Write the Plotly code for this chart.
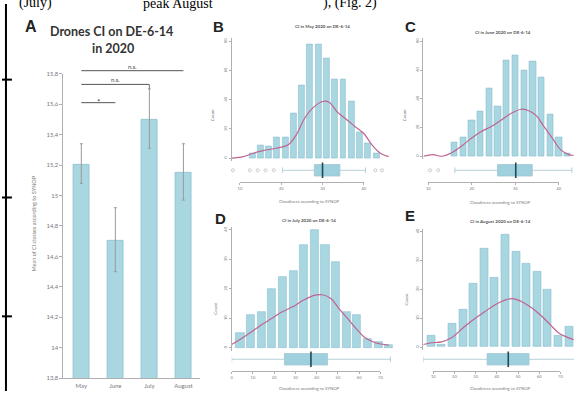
import plotly.graph_objects as go

W, H = 577, 394
def px(x): return x / W
def py(y): return 1 - y / H

# ---------------- data : panel A ----------------
months = ["May", "June", "July", "August"]
mean_ci = [15.2, 14.7, 15.5, 15.15]
err_up = [0.14, 0.22, 0.20, 0.19]
err_down = [0.12, 0.20, 0.19, 0.18]
a_tickvals = [13.8, 14.0, 14.2, 14.4, 14.6, 14.8, 15.0, 15.2, 15.4, 15.6, 15.8]
a_ticktext = ["13,8", "14", "14,2", "14,4", "14,6", "14,8", "15", "15,2", "15,4", "15,6", "15,8"]
sig_from = [0, 0, 0]
sig_to = [3, 2, 1]
sig_level = [15.82, 15.73, 15.61]
sig_text = ["n.s.", "n.s.", "*"]

# ---------------- data : panels B-E ----------------
B_centers = [13, 15, 17, 19, 21, 23, 25, 27, 29, 31, 33, 35, 37, 39, 41, 43]
B_counts = [3, 9, 8, 14, 14, 31, 50, 78, 78, 68, 54, 54, 39, 18, 10, 3]
B_dens_x = [8.0, 10.8, 13.2, 15.6, 18.8, 21.6, 23.6, 25.6, 27.6, 30.0, 31.6, 33.6, 35.6, 38.0, 40.0, 42.0, 44.0, 46.0]
B_dens_y = [0, 1.1, 3.4, 5.2, 6.8, 9.0, 15.8, 27, 34.3, 38.8, 38.3, 31.5, 27, 21.4, 16.9, 9.0, 3.4, 1.1]
B_box = [20.3, 28.0, 30.0, 34.2, 40.4]
B_outliers = [8.3, 12.4, 14.3, 16.2, 18.2, 42.8, 44.4]
B_xticks = [10, 20, 30, 40]
B_yticks = [0, 20, 40, 60, 80]

C_centers = [16, 18, 20, 22, 24, 26, 28, 30, 32, 34, 36, 38, 40, 42]
C_counts = [10, 13, 25, 31, 47, 35, 67, 70, 60, 66, 55, 29, 13, 2]
C_dens_x = [8.9, 11.1, 13.0, 15.3, 17.6, 19.9, 22.1, 24.4, 26.7, 29.0, 31.3, 32.8, 34.7, 36.6, 38.5, 40.4, 42.3, 43.4]
C_dens_y = [0, 1.1, 0, 2.3, 6.9, 12.6, 17.1, 20.6, 25.1, 29.7, 32.7, 32, 28.6, 20.6, 12.6, 4.6, 1.1, 0.7]
C_box = [16.1, 25.9, 30.1, 33.9, 43.0]
C_outliers = [10.4, 12.3]
C_xticks = [10, 20, 30, 40]
C_yticks = [0, 20, 40, 60, 80]

D_centers = [4, 9, 14, 19, 24, 29, 34, 39, 44, 49, 54, 59, 64, 69, 74]
D_counts = [5, 11, 12, 20, 24, 26, 35, 40, 35, 29, 12, 11, 3, 2, 1]
D_dens_x = [0, 3.9, 8.5, 14.0, 19.0, 23.8, 28.7, 33.7, 38.9, 42.7, 46.7, 50.5, 55.2, 59.1, 63.0, 67.7, 73.9]
D_dens_y = [1.1, 2.8, 5, 7.8, 10, 12.2, 13.9, 16.1, 17.8, 18, 16.7, 13.3, 9.4, 6.1, 3.3, 1.7, 0.9]
D_box = [0, 24.8, 37.3, 45.1, 74.7]
D_outliers = []
D_xticks = [0, 10, 20, 30, 40, 50, 60, 70]
D_yticks = [0, 10, 20, 30, 40]

E_centers = [9, 14, 19, 24, 29, 34, 39, 44, 49, 54, 59, 64, 69, 74]
E_counts = [4, 1, 8, 13, 22, 34, 24, 39, 33, 29, 26, 20, 4, 7]
E_dens_x = [5.3, 9.2, 13.9, 18.6, 24.0, 28.7, 34.2, 38.8, 43.5, 47.4, 51.3, 55.9, 60.6, 65.3, 69.2, 73.9, 76.2]
E_dens_y = [0.9, 1.5, 1.8, 3.2, 6.6, 9.4, 12.2, 14.5, 16.2, 16.8, 15.9, 13.9, 11.1, 7.7, 4.9, 3.2, 2.6]
E_box = [5.3, 35.4, 45.4, 55.2, 76.8]
E_outliers = []
E_xticks = [10, 20, 30, 40, 50, 60, 70]
E_yticks = [0, 10, 20, 30, 40]

panel_letters = ["B", "C", "D", "E"]
panel_titles = ["CI in May 2020 on DE-6-14", "CI in June 2020 on DE-6-14",
                "CI in July 2020 on DE-6-14", "CI in August 2020 on DE-6-14"]
x_title = "Cloudiness according to SYNOP"
y_title_hist = "Count"

# ---------------- styles ----------------
BAR = "#a8d6e1"
BAR_EDGE = "#8cc0ce"
DENS = "#c0648f"
AX = "#b0b0b0"
TXT = "#7a7a7a"
FONT = "Lato"

fig = go.Figure()
layout = dict(width=W, height=H, margin=dict(l=0, r=0, t=0, b=0),
              paper_bgcolor="white", plot_bgcolor="rgba(0,0,0,0)",
              showlegend=False, bargap=0)
annotations = []
shapes = []

def note(x, y, text, size, color, family=FONT, angle=0, xanchor="center"):
    return dict(x=px(x), y=py(y), xref="paper", yref="paper", text=text, showarrow=False,
                xanchor=xanchor, yanchor="middle", textangle=angle,
                font=dict(size=size, color=color, family=family))

# ---------------- panel A ----------------
A_px = dict(x0=62, x1=200, y_bot=381, y_top=71)
cat_idx = list(range(len(months)))
cat_sp = (183 - 80) / 3.0
a_xr = [(A_px["x0"] - 80) / cat_sp, (A_px["x1"] - 80) / cat_sp]
fig.add_trace(go.Bar(x=cat_idx, y=mean_ci, width=0.46,
                     marker=dict(color=BAR, line=dict(color=BAR_EDGE, width=0.8)),
                     error_y=dict(type="data", symmetric=False, array=err_up, arrayminus=err_down,
                                  color="#9a9a9a", thickness=1, width=1.5),
                     xaxis="x", yaxis="y", hoverinfo="skip"))
layout["xaxis"] = dict(domain=[px(A_px["x0"]), px(A_px["x1"])], range=a_xr, anchor="y",
                       tickvals=cat_idx, ticktext=months, showline=True, linecolor=AX, linewidth=1,
                       ticks="", tickfont=dict(size=6, color=TXT, family=FONT), showgrid=False,
                       zeroline=False, ticklabelstandoff=2)
layout["yaxis"] = dict(domain=[py(A_px["y_bot"]), py(A_px["y_top"])], range=[13.8, 15.8], anchor="x",
                       tickvals=a_tickvals, ticktext=a_ticktext, showline=True, linecolor=AX,
                       linewidth=1, ticks="outside", ticklen=3, tickcolor=AX, showgrid=False,
                       zeroline=False, tickfont=dict(size=6, color=TXT, family=FONT))
# overlay for significance brackets
ppv = (A_px["y_bot"] - A_px["y_top"]) / 2.0
layout["xaxis2"] = dict(domain=[px(A_px["x0"]), px(A_px["x1"])], range=a_xr, visible=False, anchor="y2")
layout["yaxis2"] = dict(domain=[py(A_px["y_bot"]), py(55)], range=[13.8, 13.8 + (A_px["y_bot"] - 55) / ppv],
                        visible=False, anchor="x2")
for f, t, lv, tx in zip(sig_from, sig_to, sig_level, sig_text):
    fig.add_trace(go.Scatter(x=[f, t], y=[lv, lv], mode="lines", line=dict(color="#555", width=1),
                             xaxis="x2", yaxis="y2", hoverinfo="skip"))
    annotations.append(dict(x=(f + t) / 2, y=lv, xref="x2", yref="y2", text=tx, showarrow=False,
                            xanchor="center",
                            yanchor="bottom" if tx != "*" else "middle",
                            font=dict(size=6 if tx != "*" else 8, color="#444", family=FONT),
                            yshift=-1 if tx != "*" else 1))
fig.add_trace(go.Scatter(x=[2, 2], y=[sig_level[1], mean_ci[2] + err_up[2]], mode="lines",
                         line=dict(color="#777", width=1), xaxis="x2", yaxis="y2", hoverinfo="skip"))

annotations += [
    note(29, 23, "<b>A</b>", 16, "#222", "Liberation Sans"),
    note(110, 28, "<b>Drones CI on DE-6-14</b>", 12.5, "#333"),
    note(112, 45, "<b>in 2020</b>", 12.5, "#333"),
    note(32.7, 223, "Mean of CI classes according to SYNOP", 5.5, TXT, angle=-90),
]

# ---------------- panels B-E ----------------
panels = [
    dict(centers=B_centers, counts=B_counts, barw=1.45, dens_x=B_dens_x, dens_y=B_dens_y, box=B_box,
         outl=B_outliers, xticks=B_xticks, yticks=B_yticks),
    dict(centers=C_centers, counts=C_counts, barw=1.45, dens_x=C_dens_x, dens_y=C_dens_y, box=C_box,
         outl=C_outliers, xticks=C_xticks, yticks=C_yticks),
    dict(centers=D_centers, counts=D_counts, barw=3.8, dens_x=D_dens_x, dens_y=D_dens_y, box=D_box,
         outl=D_outliers, xticks=D_xticks, yticks=D_yticks),
    dict(centers=E_centers, counts=E_counts, barw=3.8, dens_x=E_dens_x, dens_y=E_dens_y, box=E_box,
         outl=E_outliers, xticks=E_xticks, yticks=E_yticks),
]
geoms = [
    dict(x0=231.7, x1=395, tf=240, tl=365, yz=157, yt=38, bc=169.3, al=181.7,
         lab=(218, 23), tit=(323, 23), cnt=(213, 113), xt=(310, 201)),
    dict(x0=425, x1=577, tf=430, tl=561.7, yz=155, yt=38, bc=169.3, al=181.7,
         lab=(411.7, 23), tit=(505, 29), cnt=(406.7, 113), xt=(503, 201.7)),
    dict(x0=231.7, x1=395, tf=231.7, tl=381.7, yz=350, yt=230, bc=361.7, al=374,
         lab=(220, 218), tit=(310, 220.7), cnt=(215, 310), xt=(310, 391.7)),
    dict(x0=425, x1=577, tf=435, tl=563.3, yz=349.3, yt=231.7, bc=361.7, al=373.3,
         lab=(411.7, 215), tit=(503.3, 221.7), cnt=(408.3, 300), xt=(503, 391.7)),
]

idx = 3
for P, G, letter, title in zip(panels, geoms, panel_letters, panel_titles):
    hx, hy = f"x{idx}", f"y{idx}"
    bx, by = f"x{idx+1}", f"y{idx+1}"
    ax_, ay_ = f"x{idx+2}", f"y{idx+2}"
    xt = P["xticks"]
    ppu = (G["tl"] - G["tf"]) / (xt[-1] - xt[0])
    u = lambda p: xt[0] + (p - G["tf"]) / ppu
    xr = [u(G["x0"]), u(G["x1"])]
    yt = P["yticks"]
    ppc = (G["yz"] - G["yt"]) / (yt[-1] - yt[0])
    yr = [-3 / ppc, yt[-1] + 3 / ppc]

    fig.add_trace(go.Bar(x=P["centers"], y=P["counts"], width=P["barw"],
                         marker=dict(color=BAR, line=dict(color=BAR_EDGE, width=0.6)),
                         xaxis=hx, yaxis=hy, hoverinfo="skip"))
    fig.add_trace(go.Scatter(x=P["dens_x"], y=P["dens_y"], mode="lines",
                             line=dict(color=DENS, width=1.2, shape="spline"),
                             xaxis=hx, yaxis=hy, hoverinfo="skip"))
    lf, q1, med, q3, uf = P["box"]
    fig.add_trace(go.Box(y=[0], q1=[q1], median=[med], q3=[q3], lowerfence=[lf], upperfence=[uf],
                         orientation="h", width=1.3, boxpoints=False, fillcolor="#9fd0dd",
                         line=dict(color="#a4c6d0", width=0.8), xaxis=bx, yaxis=by, hoverinfo="skip"))
    fig.add_trace(go.Scatter(x=[med], y=[0], mode="markers",
                             marker=dict(symbol="line-ns", size=11, line=dict(color="#1d4b5a", width=1.6)),
                             xaxis=bx, yaxis=by, hoverinfo="skip"))
    if P["outl"]:
        fig.add_trace(go.Scatter(x=P["outl"], y=[0] * len(P["outl"]), mode="markers",
                                 marker=dict(symbol="circle-open", size=3, color="#b5b5b5",
                                             line=dict(width=0.7)),
                                 xaxis=bx, yaxis=by, hoverinfo="skip", cliponaxis=False))
    fig.add_trace(go.Scatter(x=[None], y=[None], xaxis=ax_, yaxis=ay_, hoverinfo="skip"))

    layout[f"xaxis{idx}"] = dict(domain=[px(G["x0"]), px(G["x1"])], range=xr, visible=False, anchor=hy)
    layout[f"yaxis{idx}"] = dict(domain=[py(G["yz"] + 3), py(G["yt"] - 3)], range=yr, anchor=hx,
                                 tickvals=yt, showline=True, linecolor=AX, linewidth=0.8,
                                 ticks="outside", ticklen=2, tickcolor=AX, tickangle=-90,
                                 showgrid=False, zeroline=False,
                                 tickfont=dict(size=4, color=TXT, family=FONT))
    layout[f"xaxis{idx+1}"] = dict(domain=[px(G["x0"]), px(G["x1"])], range=xr, visible=False, anchor=by)
    layout[f"yaxis{idx+1}"] = dict(domain=[py(G["bc"] + 9), py(G["bc"] - 9)], range=[-1, 1],
                                   visible=False, anchor=bx)
    layout[f"xaxis{idx+2}"] = dict(domain=[px(G["tf"]), px(G["tl"])], range=[xt[0], xt[-1]],
                                   anchor=ay_, tickvals=xt, showline=True, linecolor=AX,
                                   linewidth=0.8, ticks="outside", ticklen=2, tickcolor=AX,
                                   showgrid=False, zeroline=False,
                                   tickfont=dict(size=4, color=TXT, family=FONT))
    layout[f"yaxis{idx+2}"] = dict(domain=[py(G["al"]), py(G["al"] - 1)], range=[0, 1],
                                   visible=False, anchor=ax_)

    annotations += [
        note(G["lab"][0], G["lab"][1], f"<b>{letter}</b>", 15, "#222", "Liberation Sans"),
        note(G["tit"][0], G["tit"][1], f"<b>{title}</b>", 4.5, "#555"),
        note(G["cnt"][0], G["cnt"][1], y_title_hist, 4.5, TXT, angle=-90),
        note(G["xt"][0], G["xt"][1], x_title, 4.3, TXT),
    ]
    idx += 3

# ---------------- page decorations ----------------
shapes.append(dict(type="line", xref="paper", yref="paper", x0=px(4), x1=px(4), y0=0, y1=1,
                   line=dict(color="black", width=2)))
for yy in [77, 197, 318]:
    shapes.append(dict(type="line", xref="paper", yref="paper", x0=0, x1=px(10), y0=py(yy), y1=py(yy),
                       line=dict(color="black", width=2)))
for xx, tx in [(15, "(July)"), (140, "peak August"), (322, "), (Fig. 2)")]:
    annotations.append(note(xx, -1, tx, 14, "black", "Liberation Serif", xanchor="left"))

layout["annotations"] = annotations
layout["shapes"] = shapes
fig.update_layout(**layout)
fig.write_html("out.html", config={"displayModeBar": False},
               post_script="document.body.style.margin='0';document.body.style.padding='0';")
